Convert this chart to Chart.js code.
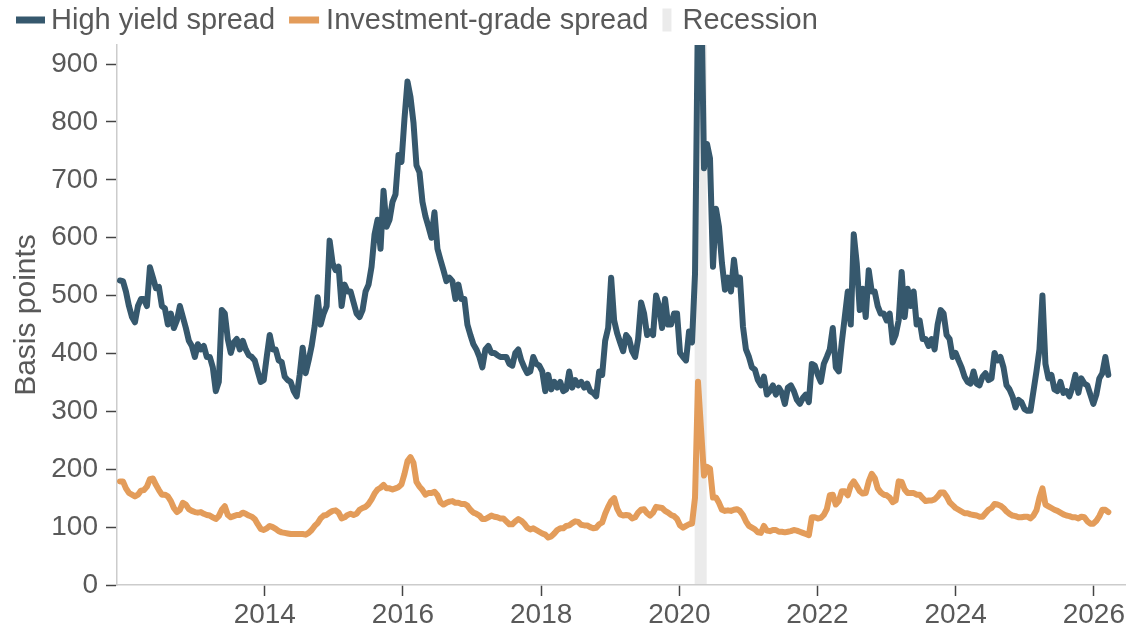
<!DOCTYPE html>
<html>
<head>
<meta charset="utf-8">
<script src="https://cdn.jsdelivr.net/npm/chart.js@4.4.1/dist/chart.umd.min.js"></script>
<style>
html,body{margin:0;padding:0;background:#ffffff;}
#wrap{position:relative;width:1127px;height:631px;}
</style>
</head>
<body>
<div id="wrap"><canvas id="c" width="1127" height="631"></canvas></div>
<script>
// ---- data ----
const seriesNames = ['High yield spread', 'Investment-grade spread'];
const recessionLabel = 'Recession';
const yTitle = 'Basis points';
const startYear = 2011.904;       // first observation (axis years)
const stepYears = 0.04335;        // spacing between observations

const highYield = [
526,525,507,482,463,454,482,494,494,482,549,531,513,515,482,478,450,469,444,457,
482,463,444,422,413,394,416,407,413,394,394,376,335,351,475,469,425,401,419,425,
407,422,407,397,394,388,369,351,354,394,432,407,407,388,385,360,354,351,335,326,
363,410,366,388,413,447,497,
450,469,482,595,556,544,550,482,519,507,507,488,469,463,475,507,519,550,606,631,
581,681,619,631,662,675,743,731,806,870,843,799,725,713,662,637,619,600,644,581,
562,544,525,531,525,494,519,494,494,450,432,416,407,394,376,407,413,401,401,397,
394,394,394,382,379,401,407,
388,376,366,369,394,382,379,369,335,363,338,351,341,351,335,338,369,341,354,345,
351,341,348,335,332,326,369,363,422,444,531,457,435,419,404,432,425,404,394,425,
488,469,432,438,432,500,482,444,494,450,450,469,469,401,394,388,438,419,538,1000,
1060,720,762,737,550,650,619,
556,510,531,507,562,519,531,447,407,394,376,372,354,345,360,329,335,345,329,341,
332,313,341,345,335,320,313,323,329,316,382,379,363,351,382,394,407,444,376,369,
419,463,507,450,606,556,475,512,463,544,507,507,482,469,469,457,469,419,432,457,
541,463,512,482,507,450,
457,425,425,413,425,407,450,475,469,432,425,394,401,388,376,360,351,348,369,348,
345,360,366,354,357,401,388,394,376,345,338,326,307,320,316,304,301,301,335,369,
407,500,382,357,363,338,335,351,332,335,326,341,363,332,357,348,345,329,313,329,
357,366,394,363
];

const investmentGrade = [
179,179,167,159,156,153,156,163,164,170,183,184,173,164,156,156,153,145,133,126,
130,142,139,131,128,126,125,126,123,121,120,117,114,119,130,136,121,117,119,121,
121,125,123,120,118,114,105,97,95,98,102,100,97,93,91,90,89,88,88,88,
88,88,87,90,95,102,107,
115,120,121,125,128,129,125,115,117,121,123,121,123,130,133,135,140,148,158,165,
168,173,167,167,165,167,169,174,192,214,221,211,178,170,164,156,159,159,161,155,
143,139,142,144,145,142,142,140,140,137,130,125,123,120,114,114,117,120,118,117,
115,115,110,105,105,110,114,
111,106,99,96,98,95,92,89,87,82,84,89,95,98,98,102,103,107,110,109,
104,103,103,100,98,99,105,108,123,135,145,150,132,122,120,121,120,115,117,125,
130,131,124,120,125,135,134,133,128,125,121,119,114,103,99,102,105,106,151,351,
270,189,204,201,151,151,142,
130,128,129,128,130,131,128,121,110,102,99,96,91,90,102,94,93,95,95,92,
92,91,92,93,95,94,92,90,88,86,117,117,115,116,121,131,155,156,139,145,
162,162,155,172,179,171,162,158,159,179,192,185,167,160,156,155,151,143,146,179,
178,165,159,159,159,156,
156,150,145,146,146,148,153,160,160,153,143,138,133,130,127,124,124,122,121,120,
118,118,124,130,133,140,139,137,133,127,123,120,119,117,117,118,118,115,120,129,
151,167,139,136,133,130,128,125,122,120,119,117,117,115,118,117,110,106,106,111,
119,130,130,126
];

const dates = highYield.map((_, i) => +(startYear + i * stepYears).toFixed(4));
const recession = [2020.222, 2020.396];
const xTickValues = [2014, 2016, 2018, 2020, 2022, 2024, 2026];
const yTickStep = 100;

// ---- styles ----
const HY_COLOR = '#36586d';
const IG_COLOR = '#e39c5a';
const BAND_COLOR = '#ebebeb';
const TEXT_COLOR = '#595959';
const FONT_FAMILY = '"Liberation Sans", Arial, Helvetica, sans-serif';
const FONT_SIZE = 28;
const LEGEND_FONT_SIZE = 29;

Chart.defaults.font.family = FONT_FAMILY;
Chart.defaults.color = TEXT_COLOR;

const toPoints = (vals) => vals.map((v, i) => ({ x: dates[i], y: v }));

const recessionPlugin = {
  id: 'recessionBand',
  beforeDraw(chart) {
    const { ctx, chartArea, scales } = chart;
    const x1 = scales.x.getPixelForValue(recession[0]);
    const x2 = scales.x.getPixelForValue(recession[1]);
    ctx.save();
    ctx.fillStyle = BAND_COLOR;
    ctx.fillRect(x1, chartArea.top, x2 - x1, chartArea.bottom - chartArea.top);
    ctx.restore();
  }
};

const legendPlugin = {
  id: 'topLegend',
  afterDraw(chart) {
    const { ctx } = chart;
    const items = [
      { text: seriesNames[0], color: HY_COLOR, w: 29, h: 7, gap: 6 },
      { text: seriesNames[1], color: IG_COLOR, w: 30, h: 7, gap: 7 },
      { text: recessionLabel, color: BAND_COLOR, w: 9, h: 23, gap: 11 }
    ];
    const cy = 20;
    let x = 16;
    ctx.save();
    ctx.font = LEGEND_FONT_SIZE + 'px ' + FONT_FAMILY;
    ctx.textBaseline = 'middle';
    ctx.textAlign = 'left';
    items.forEach((it) => {
      ctx.fillStyle = it.color;
      ctx.fillRect(x, cy - it.h / 2, it.w, it.h);
      x += it.w + it.gap;
      ctx.fillStyle = TEXT_COLOR;
      ctx.fillText(it.text, x, cy + 1);
      x += ctx.measureText(it.text).width + 14;
    });
    ctx.restore();
  }
};

new Chart(document.getElementById('c'), {
  type: 'line',
  data: {
    datasets: [
      {
        label: seriesNames[0],
        data: toPoints(highYield),
        borderColor: HY_COLOR,
        borderWidth: 6,
        pointRadius: 0,
        tension: 0,
        borderJoinStyle: 'round',
        borderCapStyle: 'round',
        clip: 0,
        order: 1
      },
      {
        label: seriesNames[1],
        data: toPoints(investmentGrade),
        borderColor: IG_COLOR,
        borderWidth: 6,
        pointRadius: 0,
        tension: 0,
        borderJoinStyle: 'round',
        borderCapStyle: 'round',
        clip: 0,
        order: 2
      }
    ]
  },
  options: {
    responsive: false,
    animation: false,
    devicePixelRatio: 1,
    layout: { padding: { top: 45, left: 0, right: 0, bottom: 0 } },
    plugins: {
      legend: { display: false },
      tooltip: { enabled: false }
    },
    scales: {
      x: {
        type: 'linear',
        min: 2011.861,
        max: 2026.455,
        afterBuildTicks(scale) { scale.ticks = xTickValues.map(v => ({ value: v })); },
        afterFit(scale) { scale.height = 46; },
        border: { display: true, color: '#cccccc', width: 1.5 },
        grid: { display: true, drawOnChartArea: false, drawTicks: true, tickLength: 11, tickColor: '#444444', tickWidth: 1.5 },
        ticks: {
          autoSkip: false, maxRotation: 0, padding: 2,
          color: TEXT_COLOR, font: { size: FONT_SIZE },
          callback: (v) => String(v)
        }
      },
      y: {
        min: 0,
        max: 933,
        afterFit(scale) { scale.width = 117; },
        border: { display: true, color: '#cccccc', width: 1.5 },
        grid: { display: true, drawOnChartArea: false, drawTicks: true, tickLength: 11, tickColor: '#444444', tickWidth: 1.5 },
        ticks: { stepSize: yTickStep, includeBounds: false, padding: 8, color: TEXT_COLOR, font: { size: FONT_SIZE } },
        title: { display: true, text: yTitle, color: TEXT_COLOR, font: { size: 30 }, padding: { top: 9, bottom: 0 } }
      }
    }
  },
  plugins: [recessionPlugin, legendPlugin]
});
</script>
</body>
</html>
